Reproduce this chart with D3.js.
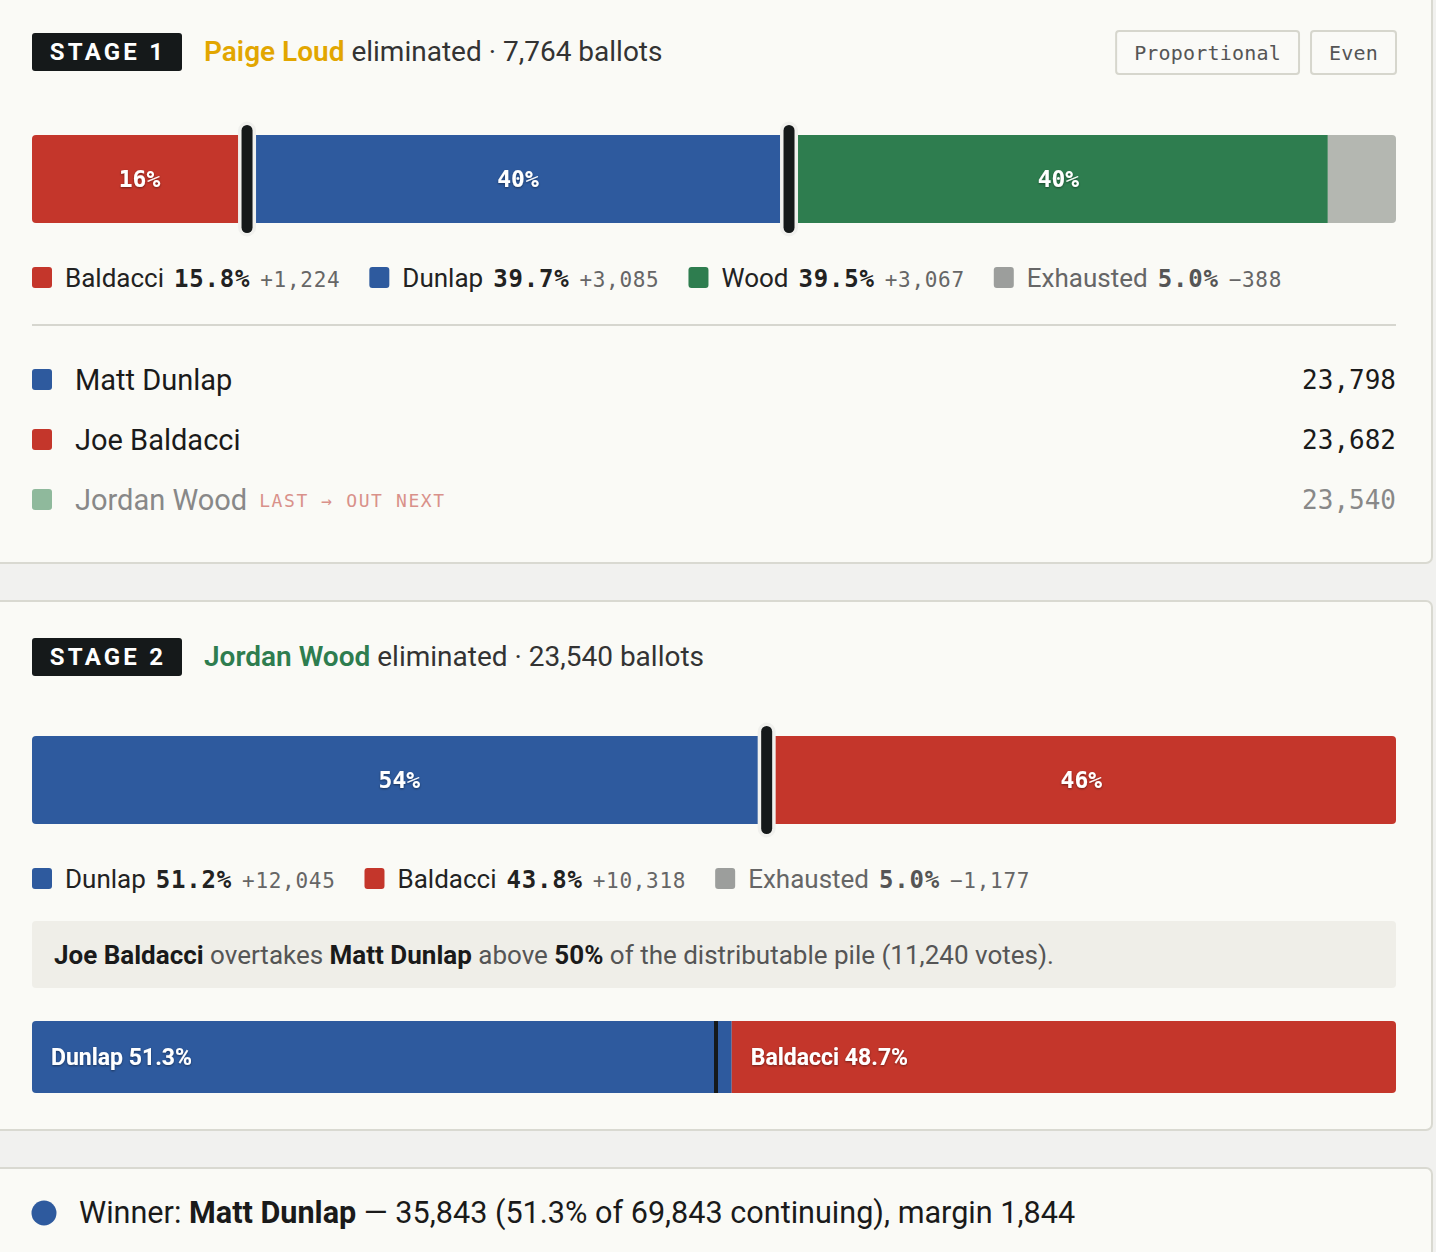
<!DOCTYPE html>
<html>
<head>
<meta charset="utf-8">
<script src="https://cdn.jsdelivr.net/npm/d3@7"></script>
<style>
  body { margin: 0; background: #f1f1ef; }
  svg { display: block; }
</style>
</head>
<body>
<svg id="chart"></svg>
<script>
const width = 1436;
const height = 1252;

// stage 1 : Paige Loud's ballots
const stage1Eliminated = "Paige Loud";
const stage1Ballots = 7764;
const stage1Keys = ["Baldacci", "Dunlap", "Wood", "Exhausted"];
const stage1Transfers = [1224, 3085, 3067, -388];
const stage1BarKeys = ["Baldacci", "Dunlap", "Wood", "Exhausted"];

// tallies after stage 1
const tallyNames = ["Matt Dunlap", "Joe Baldacci", "Jordan Wood"];
const tallyKeys = ["Dunlap", "Baldacci", "Wood"];
const tallyVotes = [23798, 23682, 23540];

// stage 2 : Jordan Wood's ballots
const stage2Eliminated = "Jordan Wood";
const stage2Ballots = 23540;
const stage2Keys = ["Dunlap", "Baldacci", "Exhausted"];
const stage2Transfers = [12045, 10318, -1177];
const stage2BarKeys = ["Dunlap", "Baldacci"];

// overtake check
const pileVotes = 11240;
const overtakeKeys = ["Dunlap", "Baldacci"];
const overtakeShares = [51.3, 48.7];

// result
const winnerName = "Matt Dunlap";
const winnerVotes = 35843;
const continuingVotes = 69843;
const winnerMargin = 1844;

const colors = {
  Baldacci: "#c4362b",
  Dunlap: "#2e5a9e",
  Wood: "#2e7d4f",
  Exhausted: "#b4b7b1"
};
const legendColors = Object.assign({}, colors, { Exhausted: "#9c9e9c" });

const SANS = "Roboto, 'Noto Sans', sans-serif";
const MONO = "'DejaVu Sans Mono', monospace";
const L = 32, R = 1396;

const fmtInt = d3.format(",");
const fmtSigned = d3.format("+,");
const fmtPct1 = d3.format(".1%");
const fmtPct0 = d3.format(".0%");

const svg = d3.select("#chart").attr("width", width).attr("height", height);

const defs = svg.append("defs");
const shadow = defs.append("filter").attr("id", "shadow")
  .attr("x", "-10%").attr("y", "-30%").attr("width", "120%").attr("height", "160%");
shadow.append("feDropShadow").attr("dx", 0).attr("dy", 1).attr("stdDeviation", 1)
  .attr("flood-color", "#000").attr("flood-opacity", 0.45);

// cards
[[-10, 573], [601, 529], [1168, 120]].forEach(([y, h]) => {
  svg.append("rect")
    .attr("x", -10).attr("y", y).attr("width", 1442).attr("height", h)
    .attr("rx", 6)
    .attr("fill", "#fafaf6")
    .attr("stroke", "#d9d9d1").attr("stroke-width", 2);
});

function badge(y, label) {
  svg.append("rect").attr("x", L).attr("y", y).attr("width", 150).attr("height", 38)
    .attr("rx", 3).attr("fill", "#15191a");
  svg.append("text").attr("x", L + 76).attr("y", y + 27)
    .attr("text-anchor", "middle")
    .style("font-family", SANS).style("font-weight", 700)
    .style("font-size", "24px").style("letter-spacing", "3.2px")
    .attr("fill", "#fff").text(label);
}

function title(y, name, color, ballots) {
  const t = svg.append("text").attr("x", 204).attr("y", y)
    .style("font-family", SANS).style("font-size", "28px");
  t.append("tspan").attr("fill", color).style("font-weight", 600).text(name);
  t.append("tspan").attr("fill", "#333").text(` eliminated · ${fmtInt(ballots)} ballots`);
}

function drawBar(y, h, keys, values) {
  const total = d3.sum(values, v => Math.abs(v));
  const x = d3.scaleLinear().domain([0, total]).range([L, R]);
  const ends = d3.cumsum(values.map(Math.abs));
  const segs = keys.map((k, i) => ({ key: k, v: Math.abs(values[i]), x0: i ? ends[i - 1] : 0, x1: ends[i] }));

  const id = "clip" + y;
  defs.append("clipPath").attr("id", id).append("rect")
    .attr("x", L).attr("y", y).attr("width", R - L).attr("height", h).attr("rx", 4);

  const g = svg.append("g");
  g.append("g").attr("clip-path", `url(#${id})`)
    .selectAll("rect").data(segs).join("rect")
    .attr("x", d => x(d.x0)).attr("y", y)
    .attr("width", d => x(d.x1) - x(d.x0)).attr("height", h)
    .attr("fill", d => colors[d.key]);

  g.selectAll("text.lbl").data(segs.filter(d => d.key !== "Exhausted")).join("text")
    .attr("class", "lbl")
    .attr("x", d => (x(d.x0) + x(d.x1)) / 2).attr("y", y + h / 2 + 8)
    .attr("text-anchor", "middle")
    .attr("filter", "url(#shadow)")
    .style("font-family", MONO).style("font-weight", 700).style("font-size", "23px")
    .attr("fill", "#fff")
    .text(d => fmtPct0(d.v / total));

  const cuts = segs.filter((d, i) => i < segs.length - 1 && segs[i + 1].key !== "Exhausted");
  g.selectAll("rect.cut").data(cuts).join("rect")
    .attr("class", "cut")
    .attr("x", d => x(d.x1) - 5.5).attr("y", y - 10)
    .attr("width", 11).attr("height", h + 20)
    .attr("rx", 5.5)
    .attr("fill", "#15191a")
    .attr("stroke", "#f0f0ed").attr("stroke-width", 7)
    .attr("paint-order", "stroke");
}

function drawLegend(y, keys, values, ballots) {
  let x = L;
  keys.forEach((k, i) => {
    const ex = k === "Exhausted";
    svg.append("rect").attr("x", x).attr("y", y - 11).attr("width", 20).attr("height", 21)
      .attr("rx", 3).attr("fill", legendColors[k]);
    const t = svg.append("text").attr("x", x + 33).attr("y", y + 9);
    t.append("tspan").style("font-family", SANS).style("font-size", "26px")
      .attr("fill", ex ? "#666" : "#222").text(k);
    t.append("tspan").attr("dx", 10).style("font-family", MONO).style("font-weight", 700)
      .style("font-size", "24px").style("letter-spacing", "0.8px").attr("fill", ex ? "#555" : "#222")
      .text(fmtPct1(Math.abs(values[i]) / ballots));
    t.append("tspan").attr("dx", 10).style("font-family", MONO).style("font-size", "21px")
      .style("letter-spacing", "0.7px")
      .attr("fill", "#666").text(fmtSigned(values[i]));
    x += 33 + t.node().getBBox().width + 29;
  });
}

// ---------- stage 1 ----------
badge(33, "STAGE 1");
title(61, stage1Eliminated, "#e2a600", stage1Ballots);

// view toggle buttons
let bx = R;
["Even", "Proportional"].forEach(lbl => {
  const t = svg.append("text").attr("y", 60)
    .style("font-family", MONO).style("font-size", "20px").style("letter-spacing", "0.2px")
    .attr("fill", "#555").text(lbl);
  const w = t.node().getComputedTextLength() + 36;
  svg.insert("rect", "text").attr("x", bx - w).attr("y", 31).attr("width", w).attr("height", 43)
    .attr("rx", 3).attr("fill", "#fafaf7").attr("stroke", "#d6d6cd").attr("stroke-width", 2);
  t.attr("x", bx - w / 2).attr("text-anchor", "middle");
  bx -= w + 12;
});

drawBar(135, 88, stage1BarKeys, stage1BarKeys.map(k => stage1Transfers[stage1Keys.indexOf(k)]));
drawLegend(278, stage1Keys, stage1Transfers, stage1Ballots);

svg.append("line").attr("x1", L).attr("x2", R).attr("y1", 325).attr("y2", 325)
  .attr("stroke", "#d6d6cf").attr("stroke-width", 2);

// standings
const rowY = d3.scalePoint().domain(tallyNames).range([380, 500]);
tallyNames.forEach((n, i) => {
  const cy = rowY(n);
  const out = i === tallyNames.length - 1;
  svg.append("rect").attr("x", L).attr("y", cy - 11).attr("width", 20).attr("height", 21)
    .attr("rx", 3).attr("fill", out ? "#8fb99c" : colors[tallyKeys[i]]);
  const t = svg.append("text").attr("x", 75).attr("y", cy + 10)
    .style("font-family", SANS).style("font-size", "29px")
    .attr("fill", out ? "#888" : "#1a1a1a").text(n);
  if (out) {
    svg.append("text").attr("x", 75 + t.node().getComputedTextLength() + 12).attr("y", cy + 7)
      .style("font-family", MONO).style("font-size", "18px").style("letter-spacing", "1.6px")
      .attr("fill", "#d9918a").text("LAST → OUT NEXT");
  }
  svg.append("text").attr("x", R).attr("y", cy + 9).attr("text-anchor", "end")
    .style("font-family", MONO).style("font-size", "26px")
    .attr("fill", out ? "#888" : "#1a1a1a").text(fmtInt(tallyVotes[i]));
});

// ---------- stage 2 ----------
badge(638, "STAGE 2");
title(666, stage2Eliminated, "#2e7d4f", stage2Ballots);

drawBar(736, 88, stage2BarKeys, stage2BarKeys.map(k => stage2Transfers[stage2Keys.indexOf(k)]));
drawLegend(879, stage2Keys, stage2Transfers, stage2Ballots);

// overtake note
svg.append("rect").attr("x", L).attr("y", 921).attr("width", R - L).attr("height", 67)
  .attr("rx", 4).attr("fill", "#efeee8");
const note = svg.append("text").attr("x", 54).attr("y", 964)
  .style("font-family", SANS).style("font-size", "26px").attr("fill", "#555");
[["Joe Baldacci", true], [" overtakes ", false], ["Matt Dunlap", true], [" above ", false],
 ["50%", true], [` of the distributable pile (${fmtInt(pileVotes)} votes).`, false]]
  .forEach(([s, b]) => {
    note.append("tspan").attr("fill", b ? "#1a1a1a" : "#555")
      .style("font-weight", b ? 700 : 400).text(s);
  });

// split of the distributable pile
const px = d3.scaleLinear().domain([0, 100]).range([L, R]);
const pEnds = d3.cumsum(overtakeShares);
const pSegs = overtakeKeys.map((k, i) => ({ key: k, v: overtakeShares[i], x0: i ? pEnds[i - 1] : 0, x1: pEnds[i] }));
defs.append("clipPath").attr("id", "clipPile").append("rect")
  .attr("x", L).attr("y", 1021).attr("width", R - L).attr("height", 72).attr("rx", 4);
const pg = svg.append("g");
pg.append("g").attr("clip-path", "url(#clipPile)")
  .selectAll("rect").data(pSegs).join("rect")
  .attr("x", d => px(d.x0)).attr("y", 1021)
  .attr("width", d => px(d.x1) - px(d.x0)).attr("height", 72)
  .attr("fill", d => colors[d.key]);
pg.append("rect").attr("x", px(50)).attr("y", 1021).attr("width", 4).attr("height", 72)
  .attr("fill", "#15191a");
pg.selectAll("text").data(pSegs).join("text")
  .attr("x", d => px(d.x0) + 19).attr("y", 1065)
  .attr("filter", "url(#shadow)")
  .style("font-family", SANS).style("font-weight", 700).style("font-size", "23px")
  .attr("fill", "#fff")
  .text(d => `${d.key} ${d.v.toFixed(1)}%`);

// ---------- winner ----------
svg.append("circle").attr("cx", 44).attr("cy", 1213).attr("r", 12.5).attr("fill", colors.Dunlap);
const win = svg.append("text").attr("x", 79).attr("y", 1223)
  .style("font-family", SANS).style("font-size", "30.6px").attr("fill", "#1a1a1a");
win.append("tspan").text("Winner: ");
win.append("tspan").style("font-weight", 700).text(winnerName);
win.append("tspan").text(` — ${fmtInt(winnerVotes)} (${fmtPct1(winnerVotes / continuingVotes)} of ${fmtInt(continuingVotes)} continuing), margin ${fmtInt(winnerMargin)}`);
</script>
</body>
</html>
